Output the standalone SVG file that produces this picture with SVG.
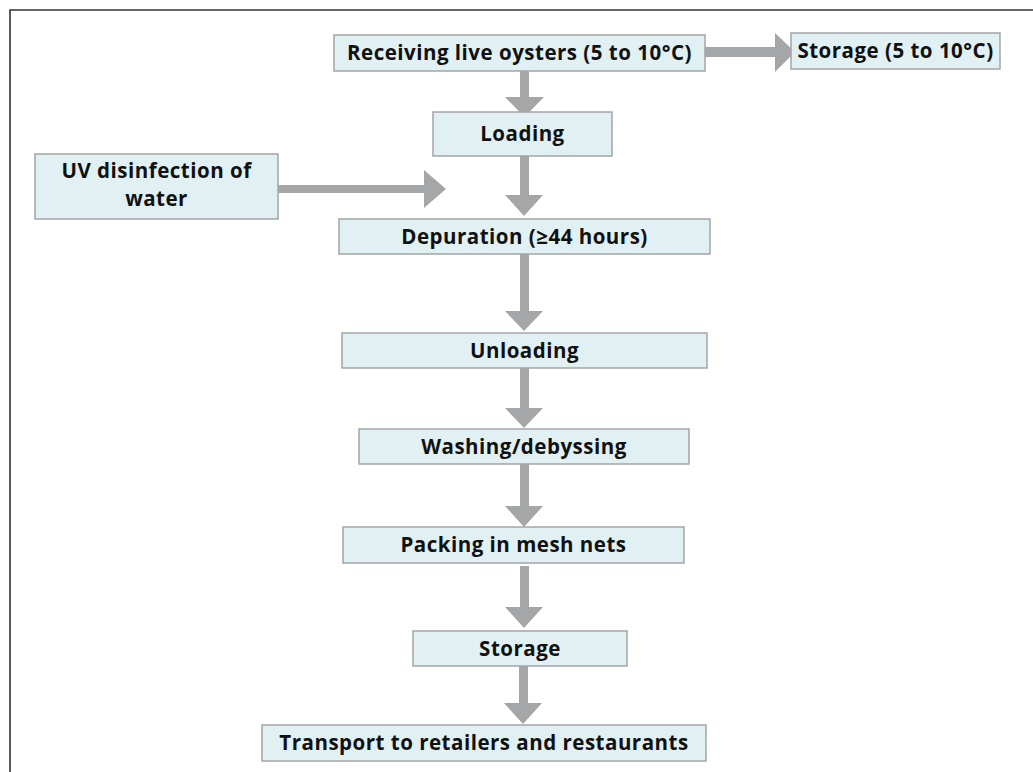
<svg xmlns="http://www.w3.org/2000/svg" width="1033" height="772" viewBox="0 0 1033 772">
<style>
.box{fill:#e0f0f3;stroke:#a3a5a7;stroke-width:1.5}
.t{font-family:"Open Sans","Liberation Sans",Arial,sans-serif;font-weight:bold;font-size:20.5px;letter-spacing:0.5px;fill:#111;text-anchor:middle}
.ar{fill:#a5a6a8}
.frame{stroke:#333;stroke-width:1.6;fill:none}
</style>
<rect width="1033" height="772" fill="#fff"/>
<path class="frame" d="M10,772 V10 H1033"/>
<g id="connectors">
<polygon class="ar" points="704,47 775,47 775,33 795,52 775,72 775,57 704,57"/>
<polygon class="ar" points="520,71 529,71 529,97 544,97 524.5,117 505,97 520,97"/>
<polygon class="ar" points="520,156 529,156 529,195 543,195 524,216 505,195 520,195"/>
<polygon class="ar" points="278,185 424,185 424,170 446,189 424,208 424,193 278,193"/>
<polygon class="ar" points="520,254 529,254 529,311 543,311 524,331 505,311 520,311"/>
<polygon class="ar" points="520,368 529,368 529,408 543,408 524,428 505,408 520,408"/>
<polygon class="ar" points="520,464 529,464 529,506 543,506 524,527 505,506 520,506"/>
<polygon class="ar" points="520,566 529,566 529,607 543,607 524,628 505,607 520,607"/>
<polygon class="ar" points="519,666 528,666 528,703 542,703 523,724 504,703 519,703"/>
</g>
<g id="receiving"><rect class="box" x="334" y="35" width="371" height="36"/><text class="t" x="519.5" y="60">Receiving live oysters (5 to 10°C)</text></g>
<g id="storage1"><rect class="box" x="791" y="33" width="209" height="36"/><text class="t" x="895.5" y="58">Storage (5 to 10°C)</text></g>
<g id="loading"><rect class="box" x="433" y="112" width="179" height="44"/><text class="t" x="522.5" y="141">Loading</text></g>
<g id="uv"><rect class="box" x="35" y="154" width="243" height="65"/><text class="t" x="156.5" y="178">UV disinfection of</text><text class="t" x="156.5" y="206">water</text></g>
<g id="depuration"><rect class="box" x="339" y="219" width="371" height="35"/><text class="t" x="524.5" y="244">Depuration (≥44 hours)</text></g>
<g id="unloading"><rect class="box" x="342" y="333" width="365" height="35"/><text class="t" x="524.5" y="358">Unloading</text></g>
<g id="washing"><rect class="box" x="359" y="429" width="330" height="35"/><text class="t" x="524" y="454">Washing/debyssing</text></g>
<g id="packing"><rect class="box" x="343" y="527" width="341" height="36"/><text class="t" x="513.5" y="552">Packing in mesh nets</text></g>
<g id="storage2"><rect class="box" x="413" y="631" width="214" height="35"/><text class="t" x="520" y="656">Storage</text></g>
<g id="transport"><rect class="box" x="262" y="725" width="444" height="36"/><text class="t" x="484" y="750">Transport to retailers and restaurants</text></g>
</svg>
